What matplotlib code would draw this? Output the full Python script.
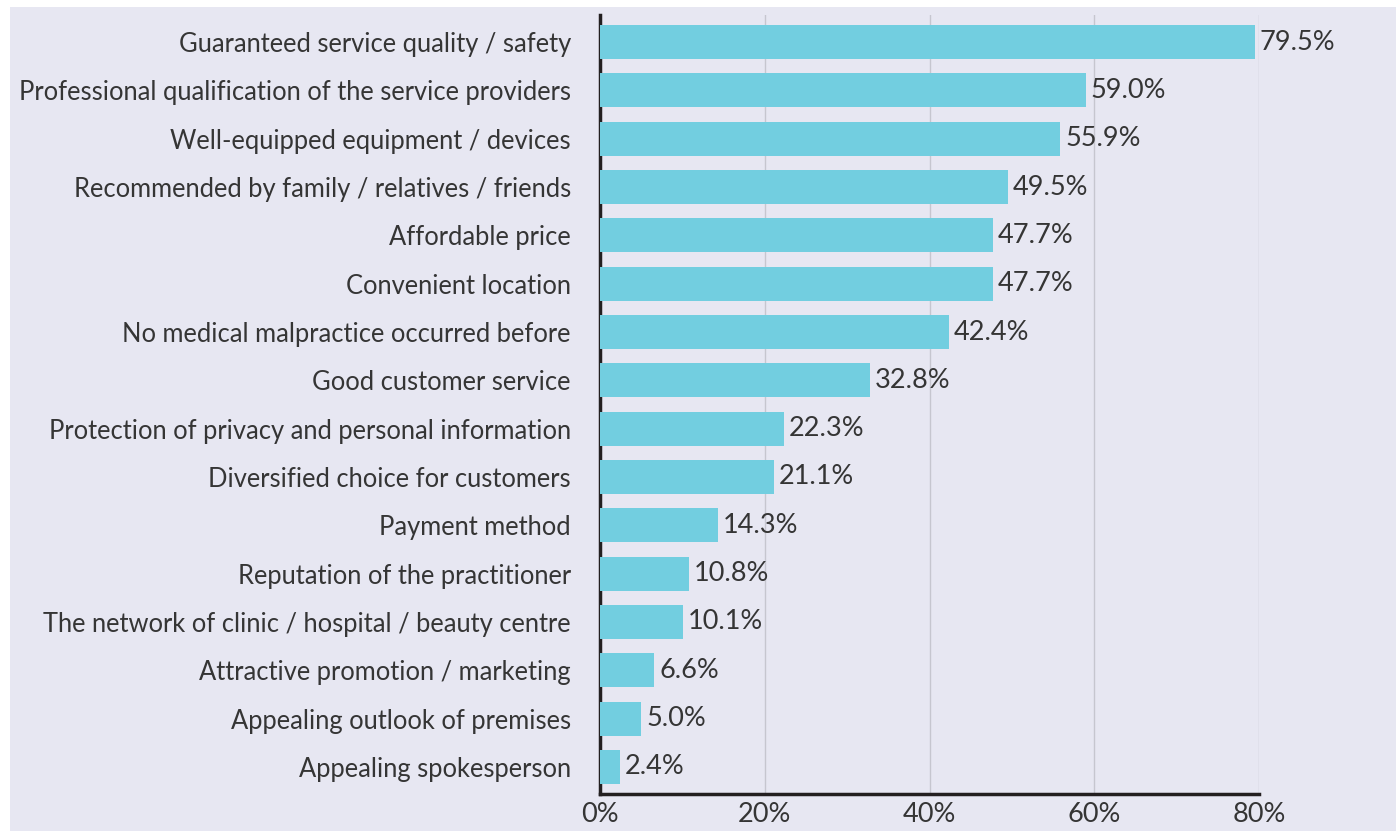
import matplotlib
matplotlib.use("Agg")
import matplotlib.pyplot as plt
from matplotlib.patches import Rectangle

categories = [
    "Guaranteed service quality / safety",
    "Professional qualification of the service providers",
    "Well-equipped equipment / devices",
    "Recommended by family / relatives / friends",
    "Affordable price",
    "Convenient location",
    "No medical malpractice occurred before",
    "Good customer service",
    "Protection of privacy and personal information",
    "Diversified choice for customers",
    "Payment method",
    "Reputation of the practitioner",
    "The network of clinic / hospital / beauty centre",
    "Attractive promotion / marketing",
    "Appealing outlook of premises",
    "Appealing spokesperson",
]
values = [79.5, 59.0, 55.9, 49.5, 47.7, 47.7, 42.4, 32.8, 22.3, 21.1, 14.3, 10.8, 10.1, 6.6, 5.0, 2.4]
xticks = [0, 20, 40, 60, 80]
xtick_labels = ["0%", "20%", "40%", "60%", "80%"]

plt.rcParams['font.family'] = ['Lato', 'DejaVu Sans']
bg = "#e7e7f2"
txt = "#353535"
fs = 18.4
fs_num = 19.5

fig = plt.figure(figsize=(13.96, 8.31), dpi=100, facecolor="white")
fig.patches.append(Rectangle((10/1396, 0), 1, 1 - 7/831, transform=fig.transFigure,
                             facecolor=bg, edgecolor="none", zorder=-10))
W, H = 1396, 831
left, right, top, bottom = 600, 1259, 15, 794
ax = fig.add_axes([left/W, 1 - bottom/H, (right-left)/W, (bottom-top)/H])
ax.set_facecolor(bg)

y = list(range(len(categories)))
ax.barh(y, values, height=0.7, color="#72cee0", zorder=3)
for yi, v in zip(y, values):
    ax.text(v + 0.6, yi, f"{v:.1f}%", va="center", ha="left", fontsize=fs_num, color=txt, zorder=4)

ax.set_ylim(len(categories) - 0.44, -0.56)
ax.set_xlim(0, 80)
ax.set_yticks(y)
ax.set_yticklabels(categories, fontsize=fs, color=txt)
ax.set_xticks(xticks)
ax.set_xticklabels(xtick_labels, fontsize=fs_num, color=txt)
ax.tick_params(axis="both", length=0)
ax.tick_params(axis="y", pad=21)
ax.tick_params(axis="x", pad=6)
ax.xaxis.grid(True, color="#c6c6cf", linewidth=1, zorder=0)
ax.set_axisbelow(True)
for s in ["top", "right"]:
    ax.spines[s].set_visible(False)
for s in ["left", "bottom"]:
    ax.spines[s].set_color("#231f20")
    ax.spines[s].set_linewidth(2.5)

fig.savefig("out.png", dpi=100, facecolor="white")
